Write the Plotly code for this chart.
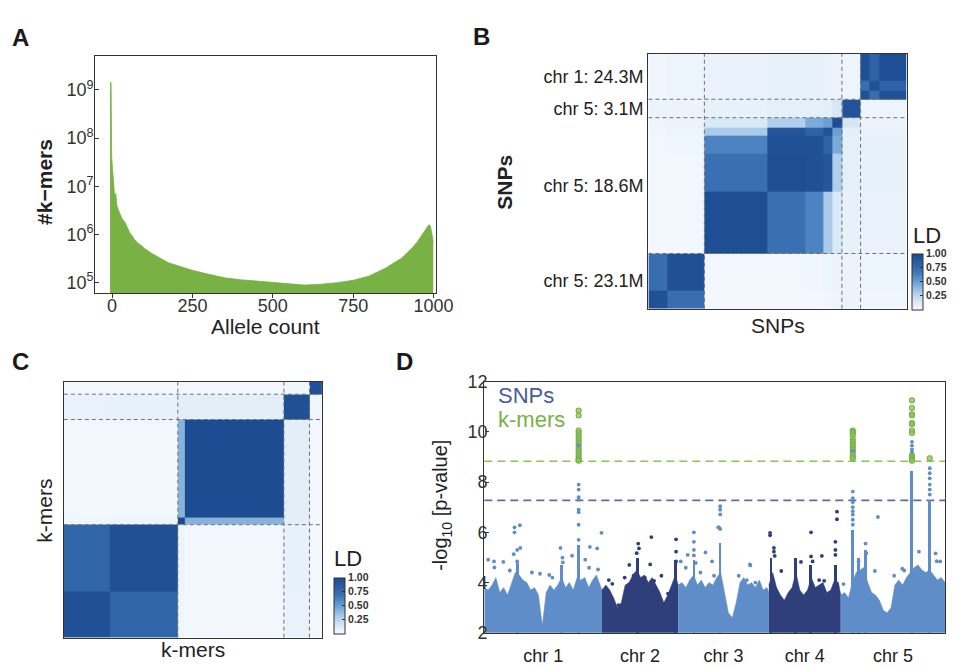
import numpy as np
import plotly.graph_objects as go

W, H = 965, 669
FONT = "Liberation Sans, Arial, sans-serif"

# ---------------- Panel A: k-mer allele count histogram ----------------
allele_count = [-6, -3, -1, 2, 5, 8, 12, 15, 20, 30, 40, 55, 70, 80, 90, 100, 125, 150, 175, 200,
                250, 300, 350, 400, 450, 500, 550, 600, 650, 700, 750, 800, 850, 900, 930, 950,
                970, 985, 990, 995, 999]
kmer_number = [1.41e9, 1.41e9, 4.0e7, 2.0e7, 1.0e7, 6.3e6, 7.1e6, 4.0e6, 3.2e6, 2.2e6, 1.8e6, 1.1e6,
               7.9e5, 6.6e5, 6.0e5, 5.2e5, 4.0e5, 3.2e5, 2.6e5, 2.3e5, 1.8e5, 1.5e5, 1.26e5, 1.15e5,
               1.07e5, 1.0e5, 9.3e4, 8.9e4, 9.3e4, 1.0e5, 1.12e5, 1.38e5, 2.0e5, 3.2e5, 5.0e5,
               7.1e5, 1.12e6, 1.58e6, 1.5e6, 1.0e6, 7.1e5]
a_xticks = [0, 250, 500, 750, 1000]
a_yticks = [1e5, 1e6, 1e7, 1e8, 1e9]
a_yticktext = ["10<sup>5</sup>", "10<sup>6</sup>", "10<sup>7</sup>", "10<sup>8</sup>", "10<sup>9</sup>"]

# ---------------- Panel B: SNP LD matrix (sub-blocks) ----------------
snp_block_sizes = [19, 38, 64, 39, 18, 9, 10, 19, 9, 10, 28]
snp_block_group = [0, 0, 1, 1, 1, 1, 1, 2, 3, 3, 3]
snp_group_labels = ["chr 5: 23.1M", "chr 5: 18.6M", "chr 5: 3.1M", "chr 1: 24.3M"]
snp_ld = [
    [0.95, 0.72, 0.03, 0.03, 0.03, 0.04, 0.05, 0.06, 0.04, 0.04, 0.04],
    [0.72, 0.95, 0.03, 0.03, 0.04, 0.05, 0.06, 0.06, 0.05, 0.05, 0.05],
    [0.03, 0.03, 0.97, 0.70, 0.62, 0.32, 0.14, 0.08, 0.07, 0.07, 0.07],
    [0.03, 0.03, 0.70, 0.97, 0.95, 0.90, 0.30, 0.09, 0.08, 0.08, 0.08],
    [0.03, 0.04, 0.62, 0.95, 0.95, 0.80, 0.45, 0.09, 0.08, 0.08, 0.08],
    [0.04, 0.05, 0.32, 0.90, 0.80, 0.95, 0.50, 0.10, 0.07, 0.07, 0.07],
    [0.05, 0.06, 0.14, 0.30, 0.45, 0.50, 0.98, 0.15, 0.06, 0.06, 0.06],
    [0.06, 0.06, 0.08, 0.09, 0.09, 0.10, 0.15, 0.92, 0.05, 0.05, 0.05],
    [0.04, 0.05, 0.07, 0.08, 0.08, 0.07, 0.06, 0.05, 0.95, 0.72, 0.95],
    [0.04, 0.05, 0.07, 0.08, 0.08, 0.07, 0.06, 0.05, 0.72, 0.95, 0.80],
    [0.04, 0.05, 0.07, 0.08, 0.08, 0.07, 0.06, 0.05, 0.95, 0.80, 0.97],
]

# ---------------- Panel C: k-mer LD matrix (sub-blocks) ----------------
kmer_block_sizes = [47, 69, 7, 101, 26, 13]
kmer_block_group = [0, 0, 1, 1, 2, 3]
kmer_ld = [
    [0.95, 0.78, 0.04, 0.03, 0.07, 0.03],
    [0.78, 0.95, 0.05, 0.03, 0.08, 0.03],
    [0.04, 0.05, 1.00, 0.42, 0.10, 0.03],
    [0.03, 0.03, 0.42, 0.98, 0.10, 0.03],
    [0.07, 0.08, 0.10, 0.10, 0.95, 0.04],
    [0.03, 0.03, 0.03, 0.03, 0.04, 0.95],
]
ld_ticks = [0.25, 0.50, 0.75, 1.00]
ld_ticktext = ["0.25", "0.50", "0.75", "1.00"]

# ---------------- Panel D: Manhattan plot ----------------
chrom_names = ["chr 1", "chr 2", "chr 3", "chr 4", "chr 5"]
chrom_len = [30.43, 19.70, 23.46, 18.59, 26.98]   # Mb
# upper edge of the dense SNP cloud, one value per Mb (last one at chromosome end)
chr1_mass = [3.8, 3.7, 3.9, 4.2, 3.6, 3.8, 3.5, 4.0, 4.4, 4.3, 4.1, 4.0, 3.7, 3.8, 3.5, 2.3,
             3.6, 3.9, 3.7, 3.9, 4.2, 3.8, 4.0, 3.7, 4.2, 4.1, 4.2, 3.8, 4.1, 4.3, 3.9, 3.7]
chr2_mass = [3.7, 3.9, 3.7, 3.4, 3.0, 3.2, 3.9, 4.0, 4.3, 4.5, 4.2, 4.3, 4.0, 4.2, 3.9, 3.6,
             3.2, 3.5, 3.9, 4.3, 3.9]
chr3_mass = [3.9, 4.0, 3.8, 4.1, 4.3, 3.9, 4.1, 3.8, 4.0, 3.9, 4.2, 4.4, 3.6, 2.8, 2.6, 3.2,
             4.0, 4.2, 3.9, 4.0, 3.8, 4.1, 3.7, 3.8, 3.6]
chr4_mass = [3.9, 4.4, 3.8, 3.5, 3.3, 3.6, 3.8, 4.4, 3.7, 3.5, 3.7, 4.2, 3.8, 3.9, 4.0, 3.6,
             3.7, 4.1, 4.0, 3.5]
chr5_mass = [3.5, 3.6, 3.4, 4.0, 4.4, 4.5, 4.6, 4.0, 3.6, 3.5, 3.3, 2.9, 2.8, 3.0, 3.9, 4.1,
             3.9, 4.2, 4.4, 4.6, 4.7, 4.5, 4.4, 4.5, 4.3, 4.1, 4.2, 4.0]
chrom_mass = [chr1_mass, chr2_mass, chr3_mass, chr4_mass, chr5_mass]
# dense narrow SNP columns (genome position in Mb, top -log10 p)
column_pos = [8.6, 20.1, 24.4, 39.7, 49.5, 54.3, 61.0, 74.2, 80.6, 84.4, 90.9, 95.3, 96.9, 98.6, 110.6, 115.2]
column_top = [4.8, 4.7, 5.5, 5.0, 4.9, 4.9, 5.6, 5.0, 5.0, 4.7, 4.7, 6.1, 5.0, 5.3, 8.45, 7.3]
# individual SNPs standing out (genome position in Mb, -log10 p)
snp_pos = [1.0, 2.5, 2.6, 4.9, 6.6, 7.8, 7.8, 9.2, 7.6, 8.5, 9.3, 8.5, 12.3, 14.4, 16.8, 17.6, 19.7, 20.2,
           20.3, 22.7, 26.1, 27.3, 27.1, 29.2, 30.3, 29.4, 24.4, 24.4, 24.4, 24.4, 24.4, 24.4, 24.4,
           24.4, 24.4,
           32.2, 33.1, 34.7, 36.3, 37.5, 38.6, 39.8, 40.0, 39.4, 41.5, 43.2, 43.9, 45.8, 47.5, 49.6,
           49.6, 49.6, 42.9,
           50.8, 52.1, 54.2, 54.2, 54.2, 54.2, 54.7, 57.2, 55.9, 58.9, 60.5, 61.0, 61.0, 61.0, 61.0,
           60.7, 65.8, 67.9, 68.8, 70.1, 68.7, 52.6, 59.4,
           73.9, 73.9, 74.9, 74.9, 75.1, 76.8, 81.9, 84.5, 84.5, 84.9, 87.3, 90.8, 90.8, 90.8, 91.2,
           91.2, 86.6, 87.9,
           92.9, 95.3, 95.3, 95.3, 95.3, 95.3, 95.3, 95.3, 95.3, 95.3, 96.8, 98.6, 98.8, 101.0, 101.8,
           106.0, 108.1, 108.6, 112.4, 116.7, 117.9, 117.0, 110.6, 110.6, 110.6, 110.6,
           115.2, 115.2, 115.2, 115.2, 115.2, 115.2]
snp_val = [4.91, 4.84, 4.6, 4.82, 4.48, 6.2, 6.0, 6.28, 5.13, 5.3, 5.38, 4.84, 4.4, 4.35, 4.3, 4.2, 5.38, 4.99,
           4.8, 5.07, 4.91, 5.42, 4.59, 5.36, 5.98, 4.52, 5.7, 6.3, 6.8, 6.9, 7.3, 7.4, 7.7,
           7.9, 9.45,
           4.1, 3.95, 3.1, 4.2, 4.7, 4.27, 5.55, 5.36, 5.17, 4.2, 5.81, 4.07, 4.27, 3.56, 5.72,
           5.23, 4.84, 4.72,
           4.84, 4.59, 6.0, 5.62, 5.3, 5.08, 4.78, 5.2, 4.4, 4.84, 6.2, 6.13, 7.04, 6.9, 6.71,
           6.2, 4.27, 4.1, 4.68, 4.0, 4.72, 5.1, 4.27,
           5.98, 5.88, 5.38, 5.23, 5.06, 4.46, 4.82, 6.0, 5.04, 4.84, 5.06, 5.62, 5.3, 5.1, 6.82,
           6.52, 4.1, 4.07,
           3.94, 7.62, 7.36, 7.2, 7.0, 6.84, 6.7, 6.5, 6.3, 9.25, 4.84, 5.55, 5.17, 4.46, 6.61,
           4.27, 4.55, 4.48, 5.23, 5.16, 4.84, 4.85, 9.6, 9.45, 9.3, 9.2,
           8.55, 8.35, 8.15, 7.9, 7.7, 7.5]
# significant k-mers (mapped position in Mb, -log10 p)
kmer_pos = [24.4] * 16 + [95.3] * 13 + [110.6] * 13 + [115.2]
kmer_val = [10.85, 10.65, 10.05, 9.95, 9.85, 9.75, 9.65, 9.55, 9.45, 9.35, 9.25, 9.15, 9.05, 8.95, 8.9, 8.85,
            10.05, 10.0, 9.95, 9.85, 9.7, 9.6, 9.5, 9.4, 9.3, 9.2, 9.1, 9.0, 8.95,
            11.25, 10.95, 10.7, 10.65, 10.35, 10.3, 10.05, 9.95, 9.05, 9.0, 8.95, 8.9, 8.85,
            8.95]
snp_threshold = 7.27
kmer_threshold = 8.83
d_yticks = [2, 4, 6, 8, 10, 12]

# ---------------- styling ----------------
GREEN = "#78b244"
LIGHT = "#5f8dca"
NAVY = "#2e3f7c"
chrom_colors = [LIGHT, NAVY, LIGHT, NAVY, LIGHT]
ld_scale = [[0.0, "#f7fbff"], [0.1, "#e3eef9"], [0.3, "#b0cfea"], [0.5, "#6a9fd3"],
            [0.7, "#3a70b3"], [0.85, "#2a5ca3"], [1.0, "#1b4a8f"]]


def fx(px):
    return px / W


def fy(py):
    return 1 - py / H


fig = go.Figure()

# ---- A ----
fig.add_trace(go.Scatter(x=allele_count, y=kmer_number, mode="lines", fill="tozeroy",
                         line=dict(color=GREEN, width=0.8), fillcolor=GREEN,
                         xaxis="x", yaxis="y", hoverinfo="skip"))


# ---- heatmaps ----
def block_edges(sizes):
    return np.concatenate([[0], np.cumsum(sizes)])


def group_bounds(sizes, groups):
    e = block_edges(sizes)
    return [e[i + 1] for i in range(len(groups) - 1) if groups[i] != groups[i + 1]]


def group_centers(sizes, groups):
    e = block_edges(sizes)
    out = []
    for g in sorted(set(groups)):
        idx = [i for i, gg in enumerate(groups) if gg == g]
        out.append((e[idx[0]] + e[idx[-1] + 1]) / 2)
    return out


def cbar(x_px, y_mid_px):
    return dict(x=fx(x_px), xanchor="left", xpad=0, y=fy(y_mid_px), yanchor="middle", ypad=0,
                len=56, lenmode="pixels", thickness=11, thicknessmode="pixels",
                outlinewidth=1, outlinecolor="#333", tickvals=ld_ticks, ticktext=ld_ticktext,
                ticks="inside", ticklen=3, tickcolor="#333", tickwidth=1.2,
                tickfont=dict(family=FONT, size=10.5, color="#333", weight="bold"))


eB = block_edges(snp_block_sizes)
fig.add_trace(go.Heatmap(x=eB, y=eB, z=snp_ld, colorscale=ld_scale, zmin=0, zmax=1,
                         xaxis="x2", yaxis="y2", colorbar=cbar(928, 280), hoverinfo="skip"))
eC = block_edges(kmer_block_sizes)
fig.add_trace(go.Heatmap(x=eC, y=eC, z=kmer_ld, colorscale=ld_scale, zmin=0, zmax=1,
                         xaxis="x3", yaxis="y3", colorbar=cbar(340, 614), hoverinfo="skip"))

shapes = []
for sizes, groups, xr, yr in [(snp_block_sizes, snp_block_group, "x2", "y2"),
                              (kmer_block_sizes, kmer_block_group, "x3", "y3")]:
    total = float(np.sum(sizes))
    for b in group_bounds(sizes, groups):
        line = dict(color="#707070", width=1, dash="4px,3px")
        shapes.append(dict(type="line", xref=xr, yref=yr, x0=b, x1=b, y0=0, y1=total, line=line, layer="above"))
        shapes.append(dict(type="line", xref=xr, yref=yr, x0=0, x1=total, y0=b, y1=b, line=line, layer="above"))

# ---- D ----
offsets = np.concatenate([[0], np.cumsum(chrom_len)[:-1]])
for k, mass in enumerate(chrom_mass):
    local = list(range(len(mass) - 1)) + [chrom_len[k]]
    xs = [offsets[k] + p for p in local]
    fig.add_trace(go.Scatter(x=xs, y=mass, mode="lines", fill="tozeroy", fillcolor=chrom_colors[k],
                             line=dict(width=0.5, color=chrom_colors[k]), xaxis="x4", yaxis="y4",
                             hoverinfo="skip"))


def chrom_of(pos):
    return np.searchsorted(np.cumsum(chrom_len), pos)


fig.add_trace(go.Bar(x=column_pos, y=column_top, width=0.7,
                     marker=dict(color=[chrom_colors[c] for c in chrom_of(column_pos)], line=dict(width=0)),
                     xaxis="x4", yaxis="y4", hoverinfo="skip"))
fig.add_trace(go.Scatter(x=kmer_pos, y=kmer_val, mode="markers",
                         marker=dict(size=5, color="rgba(140,195,95,0.75)",
                                     line=dict(color=GREEN, width=1.1)),
                         xaxis="x4", yaxis="y4", hoverinfo="skip"))
fig.add_trace(go.Scatter(x=snp_pos, y=snp_val, mode="markers",
                         marker=dict(size=3.8, color=[chrom_colors[c] for c in chrom_of(snp_pos)]),
                         xaxis="x4", yaxis="y4", hoverinfo="skip"))

for thr, col in [(snp_threshold, "#5b6ba6"), (kmer_threshold, "#8cc35f")]:
    shapes.append(dict(type="line", xref="x4 domain", yref="y4", x0=0, x1=1, y0=thr, y1=thr,
                       line=dict(color=col, width=1.6, dash="8px,5px"), layer="below"))

chrom_centers = [offsets[k] + chrom_len[k] / 2 for k in range(5)]

frame = dict(showline=True, mirror=True, linecolor="#333", linewidth=1.4, showgrid=False, zeroline=False)
tickf = dict(family=FONT, size=18, color="#333")

fig.update_layout(
    width=W, height=H, margin=dict(l=0, r=0, t=0, b=0),
    paper_bgcolor="white", plot_bgcolor="white", showlegend=False,
    font=dict(family=FONT, color="#222"),
    barmode="overlay", bargap=0,
    xaxis=dict(domain=[fx(97), fx(444)], anchor="y", range=[-52, 1008], tickvals=a_xticks,
               ticks="outside", ticklen=4, tickcolor="#333", tickfont=tickf, ticklabelstandoff=-8, **frame),
    yaxis=dict(domain=[fy(292), fy(47)], anchor="x", type="log", range=[4.78, 9.71],
               tickvals=a_yticks, ticktext=a_yticktext, ticks="inside", ticklen=4,
               tickcolor="#333", tickfont=tickf, ticklabelstandoff=-3, **frame),
    xaxis2=dict(domain=[fx(660), fx(923)], anchor="y2", range=[0, eB[-1]], showticklabels=False,
                ticks="", **frame),
    yaxis2=dict(domain=[fy(308), fy(45)], anchor="x2", range=[0, eB[-1]],
                tickvals=group_centers(snp_block_sizes, snp_block_group), ticktext=snp_group_labels,
                ticks="", ticklabelstandoff=0, tickfont=dict(family=FONT, size=18, color="#222"), **frame),
    xaxis3=dict(domain=[fx(65), fx(328)], anchor="y3", range=[0, eC[-1]], showticklabels=False,
                ticks="", **frame),
    yaxis3=dict(domain=[fy(647), fy(383)], anchor="x3", range=[0, eC[-1]], showticklabels=False,
                ticks="", **frame),
    xaxis4=dict(domain=[fx(493), fx(962)], anchor="y4", range=[0, float(np.sum(chrom_len))],
                tickvals=chrom_centers, ticktext=chrom_names, ticks="", ticklabelstandoff=6,
                tickfont=dict(family=FONT, size=18, color="#222"), **frame),
    yaxis4=dict(domain=[fy(642), fy(383)], anchor="x4", range=[2, 12], tickvals=d_yticks,
                ticks="inside", ticklen=4, tickcolor="#333", tickfont=tickf, ticklabelstandoff=-8, **frame),
    shapes=shapes,
)

ann = []


def text(s, x, y, size, color="#222", bold=False, angle=0, xanchor="center"):
    ann.append(dict(text=s, x=fx(x), y=fy(y), xref="paper", yref="paper", showarrow=False,
                    xanchor=xanchor, yanchor="middle", textangle=angle,
                    font=dict(family=FONT, size=size, color=color, weight="bold" if bold else "normal")))


text("A", 21, 28, 24, "#1a1a1a", True)
text("B", 490, 27, 24, "#1a1a1a", True)
text("C", 21, 362, 24, "#1a1a1a", True)
text("D", 412, 362, 24, "#1a1a1a", True)
text("#k\u2212mers", 46, 177, 21, bold=True, angle=-90)
text("Allele count", 270, 326, 21)
text("SNPs", 514, 177, 21, bold=True, angle=-90)
text("SNPs", 792, 325, 21)
text("k-mers", 45, 516, 21, angle=-90)
text("k-mers", 196, 659, 21)
text("-log<sub>10</sub> [p-value]", 450, 511, 20, angle=-90)
text("LD", 927, 232, 22, xanchor="left")
text("LD", 338, 565, 22, xanchor="left")
text("SNPs", 505, 397, 22, "#4a5a9c", xanchor="left")
text("k-mers", 505, 422, 22, GREEN, xanchor="left")
fig.update_layout(annotations=ann)

fig.write_html("out.html")
